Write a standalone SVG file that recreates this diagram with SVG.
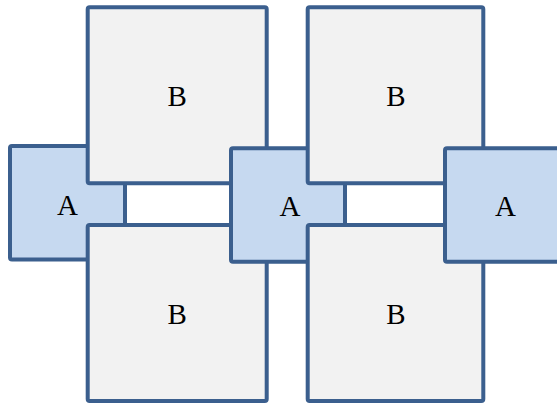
<svg xmlns="http://www.w3.org/2000/svg" width="557" height="405" viewBox="0 0 557 405">
<style>
.b{fill:#F2F2F2;stroke:#3B5F8E;stroke-width:4}
.a{fill:#C6D9F0;stroke:#3B5F8E;stroke-width:4}
text{font-family:"Liberation Serif","Times New Roman",serif;font-size:29px;fill:#000;text-anchor:middle}
</style>
<rect width="557" height="405" fill="#FFFFFF"/>
<g id="a1"><rect class="a" x="10" y="146" width="115" height="113.5" rx="2"/><text x="67.5" y="214.5">A</text></g>
<g id="b1"><rect class="b" x="87.7" y="7.3" width="179" height="176" rx="2"/><text x="177.2" y="106">B</text></g>
<g id="b2"><rect class="b" x="87.7" y="225" width="179" height="176" rx="2"/><text x="177.2" y="324">B</text></g>
<g id="a2"><rect class="a" x="231" y="148.3" width="114" height="113.4" rx="2"/><text x="290" y="216">A</text></g>
<g id="b3"><rect class="b" x="307.7" y="7.3" width="175.6" height="176" rx="2"/><text x="396" y="106">B</text></g>
<g id="b4"><rect class="b" x="307.7" y="225" width="175.6" height="176" rx="2"/><text x="396" y="324">B</text></g>
<g id="a3"><rect class="a" x="445" y="148.3" width="120" height="113.4" rx="2"/><text x="505.5" y="216">A</text></g>
<g id="connectors"></g>
</svg>
